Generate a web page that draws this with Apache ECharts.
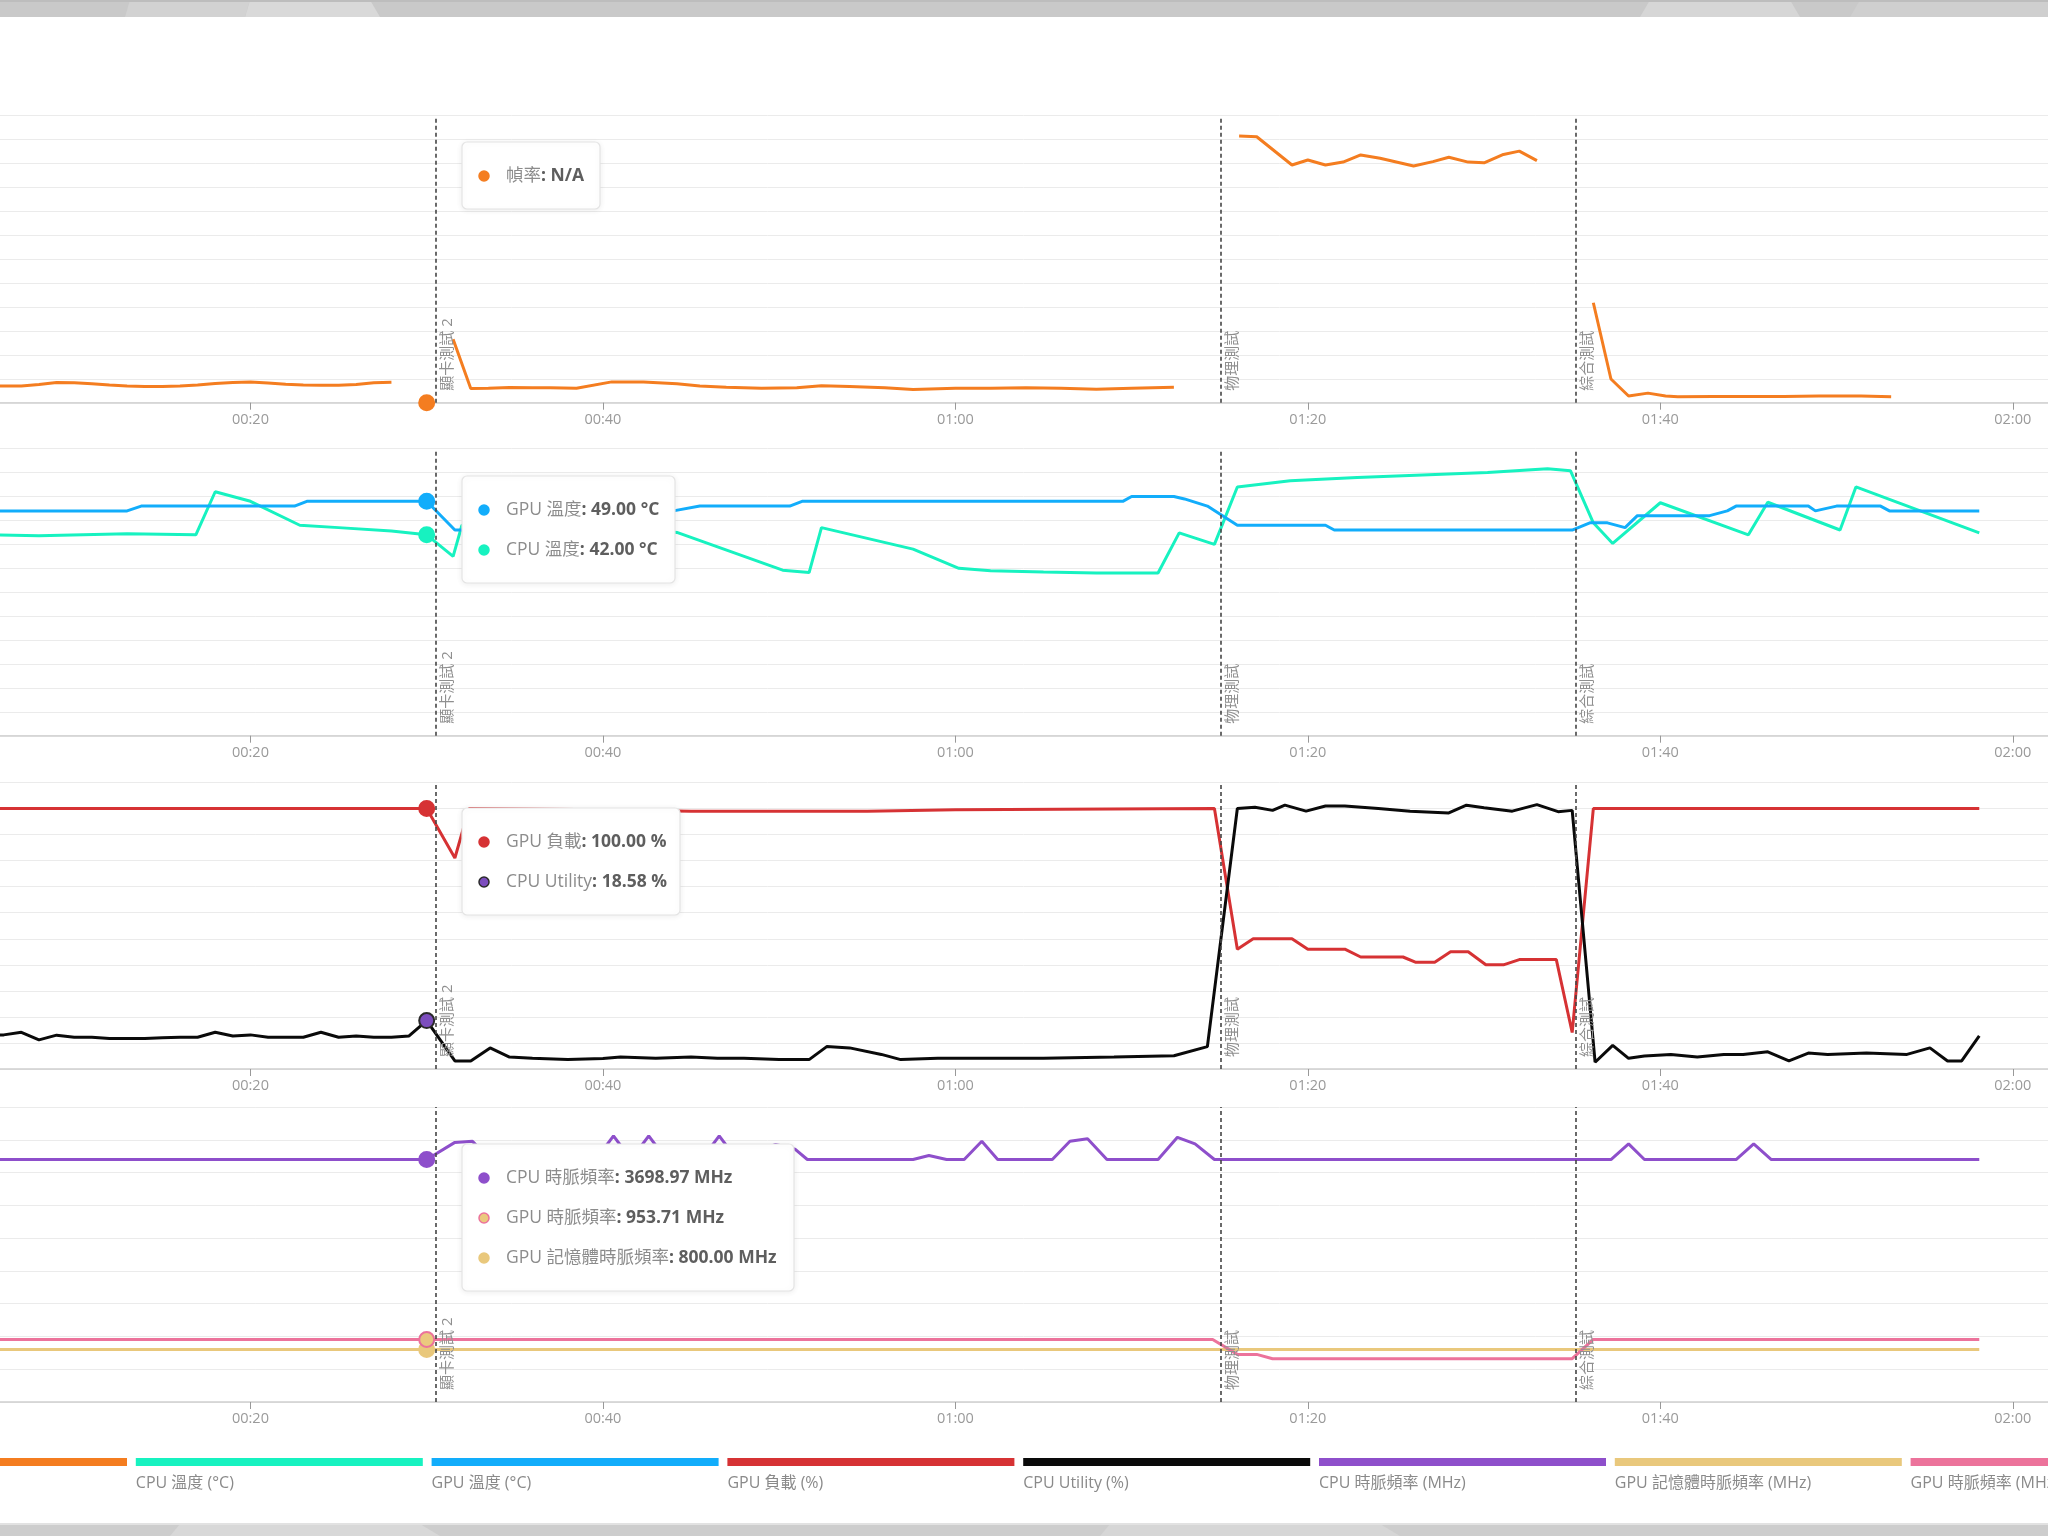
<!DOCTYPE html>
<html>
<head>
<meta charset="utf-8">
<script src="https://cdn.jsdelivr.net/npm/echarts@6/dist/echarts.min.js"></script>
<style>
html, body { margin: 0; padding: 0; background: #fff; }
#main { width: 2048px; height: 1536px; }
</style>
</head>
<body>
<div id="main"></div>
<script>
var FONT = "'Open Sans', 'Noto Sans CJK TC', sans-serif";

// 滑鼠停留的時間點 (秒) 與測試分段
var hoverTime = 30;
var testNames = ['顯卡測試 2', '物理測試', '綜合測試'];
var testTimes = [30.5, 75.05, 95.2];

// [秒, 值]
var fps = [[5,7.0],[6,7.0],[7,7.0],[8,7.6],[9,8.4],[10,8.3],[11,7.9],[12,7.4],[13,7.0],[14,6.8],[15,6.8],[16,7.0],[17,7.4],[18,8.0],[19,8.4],[20,8.7],[21,8.2],[22,7.7],[23,7.4],[24,7.3],[25,7.3],[26,7.6],[27,8.3],[28,8.5],[30,null],
  [31.5,26.5],[32.5,5.9],[33.5,6.0],[34.7,6.4],[36,6.3],[37,6.2],[38.5,6.0],[40.5,8.7],[42.3,8.7],[44.2,7.9],[45.5,7.0],[47,6.5],[49,6.0],[51,6.3],[52.4,7.1],[54,6.8],[56,6.2],[57.6,5.5],[60,6.0],[62,6.0],[64,6.2],[66,6.0],[68,5.6],[70,6.0],[72.4,6.5],[74,null],
  [76.1,111.5],[77.1,111.2],[79.1,99.4],[80,101.5],[81,99.4],[82,100.6],[83,103.6],[84.1,102.2],[86,99.0],[87.1,100.8],[88,102.6],[89.1,100.6],[90,100.3],[91.1,103.8],[92,105.2],[93,101.2],[95,null],
  [96.2,41.8],[97.2,9.9],[98.2,2.8],[99.3,4.0],[100.3,2.8],[101,2.5],[103,2.6],[105,2.6],[107,2.6],[109,2.8],[111.4,2.8],[113.1,2.5]];

var gpuTemp = [[5,47],[13,47],[13.8,48],[22.5,48],[23.2,49],[30,49],[31.6,43],[32.5,43],[34,46],[44,47],[45.5,48],[50.6,48],[51.3,49],[69.5,49],[70,50],[72.4,50],[73,49.5],[74.3,48],[76,44],[81,44],[81.5,43],[95,43],
  [96,44.5],[97,44.5],[98,43.5],[98.7,46],[102.8,46],[103.8,47],[104.3,48],[108.4,48],[108.8,47],[110,48],[112.5,48],[113,47],[118.1,47]];

var cpuTemp = [[5,42],[8,41.8],[13,42.2],[16.9,42],[18,51],[20,49],[22.8,44],[25,43.5],[28,42.8],[30,42],[31.5,37.5],[32,44],[41,44],[44.2,42.5],[50.2,34.6],[51.7,34.1],[52.4,43.5],[57.6,39],[60.2,35],[62,34.5],[65,34.2],[68,34],[71.5,34],[72.7,42.4],[74.7,40],
  [76,52],[79,53.3],[82.8,54],[86.5,54.5],[90.2,55],[93.6,55.8],[94.9,55.4],[96.2,44.5],[97.3,40.2],[100,48.7],[105,42],[106.1,48.8],[110.2,43],[111.1,52],[118.1,42.4]];

var gpuLoad = [[5,100],[30,100],[31.6,81],[32.4,100],[40,99.5],[45,99],[55,99],[60,99.5],[74.7,100],[76,46],[76.9,50],[79.1,50],[80,46],[82.1,46],[83,43],[85.4,43],[86.1,41],[87.2,41],[88.1,45],[89.1,45],[90.1,40],[91.1,40],[92,42],[94.1,42],[95,14],[96.2,100],[118.1,100]];

var cpuUtil = [[5,13.1],[6,13.1],[7,14.1],[8,11.2],[9,13],[10,12.2],[11,12.2],[12,11.7],[13,11.7],[14,11.7],[15,12],[16,12.2],[17,12.2],[18,14.1],[19,12.7],[20,13.1],[21,12.2],[22,12.2],[23,12.2],[24,14.1],[25,12.2],[26,12.7],[27,12.2],[28,12.2],[29,12.7],[30,18.58],
  [31.6,3.1],[32.5,3.1],[33.6,8.1],[34.7,4.6],[36,4.1],[38,3.6],[40,4],[41,4.6],[43,4.1],[45,4.6],[46.5,4.1],[48,4.1],[50,3.6],[51.7,3.6],[52.7,8.6],[54,8.1],[55.8,5.6],[56.9,3.6],[59,4.1],[62,4.1],[65,4.1],[69,4.6],[72.4,5.1],[74.3,8.6],
  [76,100],[77,100.5],[78,99.3],[78.7,101.3],[79.9,99],[81,101],[82.1,101],[84,100],[85.8,99],[88,98.3],[89,101.3],[90,100.3],[91.6,99],[93,101.5],[94.2,98.8],[95,99.3],
  [96.3,2.6],[97.3,9.1],[98.2,4.1],[99.1,5],[100.6,5.6],[102.1,4.6],[103.6,5.6],[104.7,5.6],[106.1,6.6],[107.3,3.1],[108.4,6.1],[109.5,5.6],[111.7,6.1],[114,5.6],[115.3,8.1],[116.3,3.1],[117.1,3.1],[118.1,12.7]];

var cpuClock = [[5,3699],[30,3698.97],[31.6,3960],[32.6,3976],[33.6,3699],[39.6,3699],[40.6,4060],[41.6,3699],[42.6,4060],[43.6,3699],[45.6,3699],[46.6,4060],[47.6,3699],[49.8,3930],[50.9,3857],[51.6,3699],[57.6,3699],[58.5,3760],[59.5,3699],[60.5,3699],[61.5,3977],[62.4,3699],[65.5,3699],[66.5,3977],[67.5,4017],[68.6,3699],[71.5,3699],[72.6,4037],[73.6,3937],[74.7,3699],
  [97.2,3699],[98.2,3937],[99.1,3699],[104.3,3699],[105.3,3937],[106.3,3699],[118.1,3699]];

var gpuClock = [[5,953.71],[30,953.71],[74.6,953.71],[76,726],[77.1,726],[78,660],[95,660],[96.2,953.71],[118.1,953.71]];

var memClock = [[5,800],[30,800],[118.1,800]];

var legendNames = ['幀率 (FPS)', 'CPU 溫度 (°C)', 'GPU 溫度 (°C)', 'GPU 負載 (%)', 'CPU Utility (%)', 'CPU 時脈頻率 (MHz)', 'GPU 記憶體時脈頻率 (MHz)', 'GPU 時脈頻率 (MHz)'];
var legendColors = ['#F47D20', '#17F2C0', '#12ADFB', '#D63234', '#0A0A0A', '#8E4FCB', '#E9C87C', '#EC739B'];

// 四個圖表面板
var panels = [
  { top: 115.7, height: 287, max: 120, interval: 10 },
  { top: 448.7, height: 287, max: 60, interval: 5 },
  { top: 782.5, height: 286.5, max: 110, interval: 10 },
  { top: 1107, height: 295, max: 4500, interval: 500 }
];

var lines = [
  { name: '幀率', data: fps, color: '#F47D20', panel: 0, unit: '' },
  { name: 'CPU 溫度', data: cpuTemp, color: '#17F2C0', panel: 1, unit: '°C' },
  { name: 'GPU 溫度', data: gpuTemp, color: '#12ADFB', panel: 1, unit: '°C' },
  { name: 'GPU 負載', data: gpuLoad, color: '#D63234', panel: 2, unit: '%' },
  { name: 'CPU Utility', data: cpuUtil, color: '#0A0A0A', panel: 2, unit: '%', dot: '#7C4DBE', dotBorder: '#2a2a2a' },
  { name: 'CPU 時脈頻率', data: cpuClock, color: '#8E4FCB', panel: 3, unit: 'MHz' },
  { name: 'GPU 記憶體時脈頻率', data: memClock, color: '#E9C87C', panel: 3, unit: 'MHz' },
  { name: 'GPU 時脈頻率', data: gpuClock, color: '#EC739B', panel: 3, unit: 'MHz', dot: '#EBC97E' }
];

// 提示框: 哪些線, 放在哪裡
var boxes = [
  { x: 462, y: 142, w: 138, rows: [0] },
  { x: 462, y: 476, w: 213, rows: [2, 1] },
  { x: 462, y: 808, w: 218, rows: [3, 4] },
  { x: 462, y: 1144, w: 332, rows: [5, 7, 6] }
];

function valueAt(arr, t) {
  for (var i = 0; i < arr.length; i++) {
    if (arr[i][0] === t) return arr[i][1];
  }
  return null;
}

function timeLabel(v) {
  var m = Math.floor(v / 60), s = Math.round(v % 60);
  return (m < 10 ? '0' + m : m) + ':' + (s < 10 ? '0' + s : s);
}

var grids = [], xAxes = [], yAxes = [], series = [];
panels.forEach(function (p, i) {
  grids.push({ left: -102, right: 0, top: p.top, height: p.height, containLabel: false, outerBoundsMode: 'none' });
  xAxes.push({
    type: 'value', gridIndex: i, min: 0, max: 122, interval: 20,
    axisLine: { lineStyle: { color: '#cfcfcf', width: 1.5 } },
    axisTick: { length: 7, lineStyle: { color: '#999' } },
    axisLabel: { formatter: timeLabel, color: '#9a9a9a', fontSize: 14.5, fontFamily: FONT, margin: 10 },
    splitLine: { show: false }
  });
  yAxes.push({
    type: 'value', gridIndex: i, min: 0, max: p.max, interval: p.interval,
    axisLabel: { show: false }, axisLine: { show: false }, axisTick: { show: false },
    splitLine: { lineStyle: { color: '#ebebeb', width: 1 } }
  });
});

var markDone = {};
lines.forEach(function (l) {
  var s = {
    type: 'line', name: l.name, xAxisIndex: l.panel, yAxisIndex: l.panel,
    data: l.data, showSymbol: false, symbol: 'none', silent: true,
    lineStyle: { color: l.color, width: 3 }, itemStyle: { color: l.color }, z: 2
  };
  if (!markDone[l.panel]) {
    markDone[l.panel] = true;
    s.markLine = {
      silent: true, symbol: 'none', animation: false,
      lineStyle: { color: '#454545', type: [4, 3], width: 1.6 },
      label: { show: true, position: 'insideStartBottom', formatter: '{b}', color: '#8f8f8f', fontSize: 15, fontFamily: FONT, distance: [12, 5] },
      emphasis: { disabled: true },
      data: testTimes.map(function (t, i) { return { name: testNames[i], xAxis: t }; })
    };
  }
  series.push(s);
});

// 停留點
lines.forEach(function (l) {
  var v = valueAt(l.data, hoverTime);
  series.push({
    type: 'scatter', xAxisIndex: l.panel, yAxisIndex: l.panel, silent: true, z: 5,
    data: [[hoverTime, v == null ? 0 : v]], symbolSize: 15,
    itemStyle: { color: l.dot || l.color, borderColor: l.dotBorder || l.color, borderWidth: 2, opacity: 1 }
  });
});

var graphics = [];

// 上下灰色邊
graphics.push({ type: 'rect', shape: { x: 0, y: 0, width: 2048, height: 17 }, style: { fill: '#c9c9c9' }, z: 1 });
graphics.push({ type: 'polygon', shape: { points: [[250, 0], [370, 0], [380, 17], [245, 17]] }, style: { fill: '#d9d9d9' }, z: 1 });
graphics.push({ type: 'polygon', shape: { points: [[130, 0], [250, 0], [245, 17], [125, 17]] }, style: { fill: '#d2d2d2' }, z: 1 });
graphics.push({ type: 'polygon', shape: { points: [[1650, 0], [1790, 0], [1800, 17], [1640, 17]] }, style: { fill: '#d6d6d6' }, z: 1 });
graphics.push({ type: 'polygon', shape: { points: [[1860, 0], [2048, 0], [2048, 17], [1850, 17]] }, style: { fill: '#cfcfcf' }, z: 1 });
graphics.push({ type: 'rect', shape: { x: 0, y: 0, width: 2048, height: 2 }, style: { fill: '#bdbdbd' }, z: 1 });
graphics.push({ type: 'rect', shape: { x: 0, y: 1524, width: 2048, height: 12 }, style: { fill: '#cdcdcd' }, z: 1 });
graphics.push({ type: 'polygon', shape: { points: [[180, 1524], [420, 1524], [440, 1536], [170, 1536]] }, style: { fill: '#d8d8d8' }, z: 1 });
graphics.push({ type: 'polygon', shape: { points: [[1110, 1524], [1380, 1524], [1400, 1536], [1100, 1536]] }, style: { fill: '#d6d6d6' }, z: 1 });
graphics.push({ type: 'rect', shape: { x: 0, y: 1523, width: 2048, height: 2 }, style: { fill: '#e2e2e2' }, z: 1 });

// 提示框
boxes.forEach(function (b) {
  var h = 67 + (b.rows.length - 1) * 40;
  graphics.push({
    type: 'rect', z: 20,
    shape: { x: b.x, y: b.y, width: b.w, height: h, r: 5 },
    style: { fill: '#fff', stroke: '#e4e4e4', lineWidth: 1.2, shadowBlur: 6, shadowColor: 'rgba(0,0,0,0.07)', shadowOffsetY: 1 }
  });
  b.rows.forEach(function (li, k) {
    var l = lines[li];
    var v = valueAt(l.data, hoverTime);
    var cy = b.y + 34 + k * 40;
    graphics.push({
      type: 'circle', z: 21, shape: { cx: b.x + 22, cy: cy, r: 5 },
      style: { fill: l.dot || l.color, stroke: l.dotBorder || l.color, lineWidth: 1.5 }
    });
    var valText = v == null ? 'N/A' : v.toFixed(2) + ' ' + l.unit;
    graphics.push({
      type: 'text', z: 21, x: b.x + 44, y: cy,
      style: {
        text: '{a|' + l.name + '}{b|: ' + valText + '}',
        verticalAlign: 'middle',
        rich: {
          a: { fontFamily: FONT, fontSize: 17.5, fill: '#8c8c8c', color: '#8c8c8c' },
          b: { fontFamily: FONT, fontSize: 17.5, fontWeight: 'bold', fill: '#5e5e5e', color: '#5e5e5e' }
        }
      }
    });
  });
});

// 圖例
legendNames.forEach(function (name, i) {
  var x = -160 + i * 295.8;
  graphics.push({ type: 'rect', z: 10, shape: { x: x, y: 1458, width: 287, height: 8 }, style: { fill: legendColors[i] } });
  graphics.push({
    type: 'text', z: 10, x: x, y: 1483,
    style: { text: name, fill: '#8a8a8a', fontSize: 16, fontFamily: FONT, verticalAlign: 'middle' }
  });
});

var myChart = echarts.init(document.getElementById('main'));
var option = {
  animation: false,
  backgroundColor: '#fff',
  grid: grids,
  xAxis: xAxes,
  yAxis: yAxes,
  series: series,
  graphic: graphics
};
myChart.setOption(option);
</script>
</body>
</html>
